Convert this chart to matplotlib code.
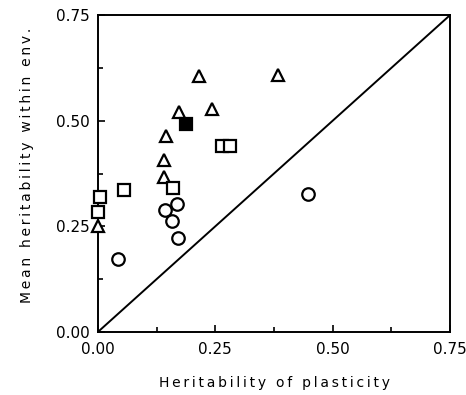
import matplotlib
matplotlib.use("Agg")
import matplotlib.pyplot as plt
from matplotlib.ticker import MultipleLocator

# open triangles
triX = [0.0, 0.141, 0.141, 0.145, 0.172, 0.216, 0.242, 0.384]
triY = [0.251, 0.367, 0.407, 0.464, 0.521, 0.606, 0.527, 0.608]

# open squares
sqX = [0.0, 0.004, 0.056, 0.160, 0.265, 0.281]
sqY = [0.283, 0.319, 0.336, 0.340, 0.440, 0.440]

# filled square
fsqX = [0.1875]
fsqY = [0.492]

# open circles
circX = [0.042, 0.143, 0.157, 0.168, 0.170, 0.448]
circY = [0.172, 0.289, 0.263, 0.303, 0.222, 0.326]

ticks = [0.0, 0.25, 0.5, 0.75]
tickLabels = ["0.00", "0.25", "0.50", "0.75"]

xTitle = "Heritability of plasticity"
yTitle = "Mean heritability within env."


def spaced(text):
    # widen letter spacing like the original typeset labels
    return "\u2009".join(text)


fig = plt.figure(figsize=(4.66, 3.95), dpi=100)
ax = fig.add_axes([0.210, 0.1595, 0.756, 0.8025])

ax.plot([0, 0.75], [0, 0.75], color="black", linewidth=1.4)

style = dict(linestyle="none", markersize=9, markeredgewidth=1.6,
             markeredgecolor="black", clip_on=False, zorder=3)
ax.plot(triX, triY, marker="^", markerfacecolor="white", **style)
ax.plot(sqX, sqY, marker="s", markerfacecolor="white", **style)
ax.plot(fsqX, fsqY, marker="s", markerfacecolor="black", **style)
ax.plot(circX, circY, marker="o", markerfacecolor="white", **style)

ax.set_xlim(0, 0.75)
ax.set_ylim(0, 0.75)
ax.set_xticks(ticks)
ax.set_xticklabels(tickLabels)
ax.set_yticks(ticks)
ax.set_yticklabels(tickLabels)
ax.xaxis.set_minor_locator(MultipleLocator(0.125))
ax.yaxis.set_minor_locator(MultipleLocator(0.125))
ax.tick_params(which="both", direction="in", labelsize=11, width=1.2)
ax.tick_params(which="major", length=5)
ax.tick_params(which="minor", length=3.5)
ax.tick_params(axis="x", pad=7)
ax.tick_params(axis="y", pad=6)

for s in ax.spines.values():
    s.set_linewidth(1.4)

ax.set_xlabel(spaced(xTitle), fontsize=10, labelpad=14)
ax.set_ylabel(spaced(yTitle), fontsize=10)
ax.yaxis.set_label_coords(-0.18, 0.527)

fig.savefig("out.png", dpi=100)
